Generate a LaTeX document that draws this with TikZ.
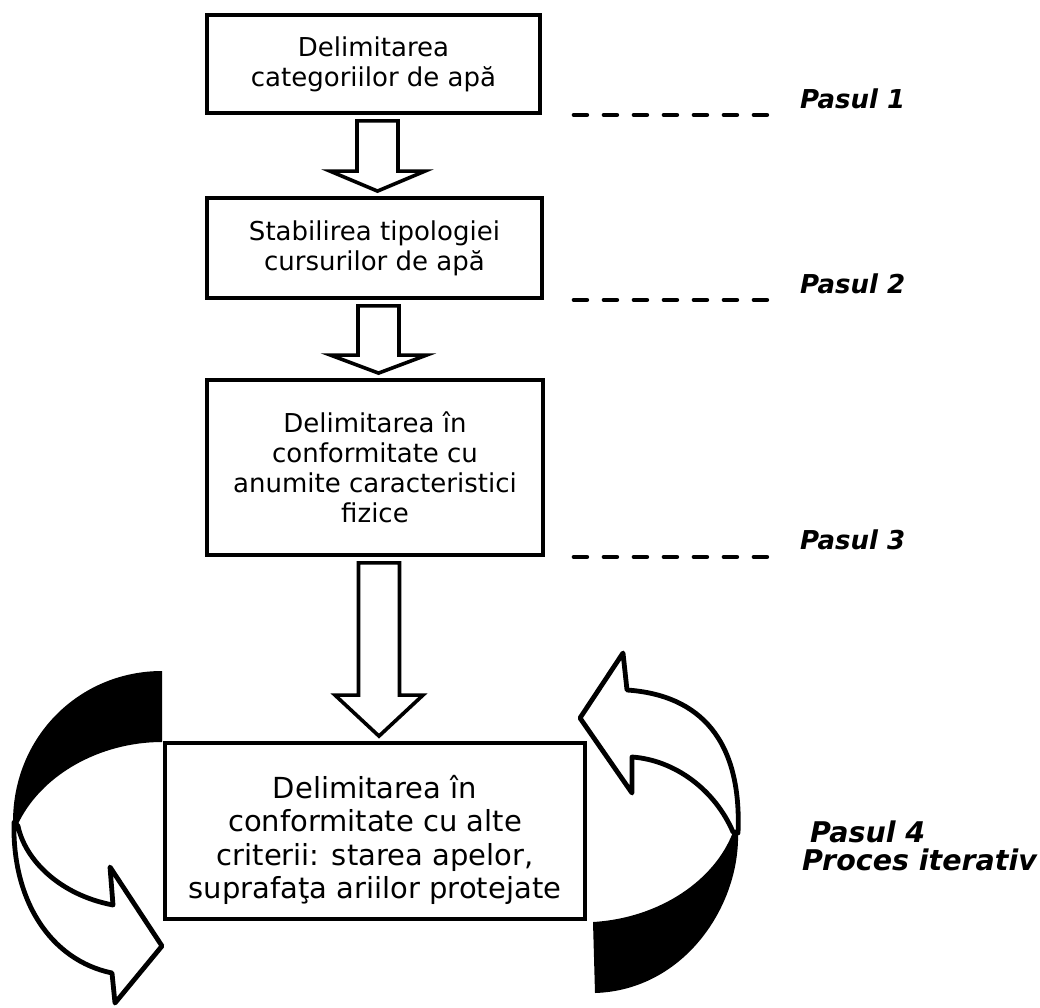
\documentclass[tikz,border=0pt]{standalone}
\usepackage{fontspec}
\setmainfont{DejaVu Sans}
\usetikzlibrary{calc}

% block arrow pointing down from the bottom of #1 to the top of #2
% #3 = head length, #4 = half width of the head
\newcommand{\blockdown}[4]{%
  \draw[blockarrow] let \p1=($(#1.south)+(4,0)$), \p2=($(#2.north)+(4,0)$) in
    (\x1-20.5pt,\y1-6pt) -- (\x1+20.5pt,\y1-6pt) -- (\x1+20.5pt,\y2+5pt+#3pt)
    -- (\x1+#4pt,\y2+5pt+#3pt) -- (\x1,\y2+5pt) -- (\x1-#4pt,\y2+5pt+#3pt)
    -- (\x1-20.5pt,\y2+5pt+#3pt) -- cycle;}

\begin{document}
\begin{tikzpicture}[x=1pt,y=-1pt,
  box/.style={draw, line width=3.8pt, align=center, inner sep=0pt,
    font=\fontsize{26}{30}\selectfont},
  boxtext/.style={align=center, inner sep=0pt,
    font=\fontsize{29}{33.3}\selectfont},
  blockarrow/.style={draw, fill=white, line width=3.6pt, line join=miter},
  leader/.style={line width=4.5pt, line cap=round, dash pattern=on 13pt off 17pt},
  steplabel/.style={anchor=base west, inner sep=0pt,
    font=\fontsize{26}{30}\selectfont\bfseries\itshape},
  ribbon/.style={draw, fill=white, line width=4.8pt, line join=round},
]
\useasboundingbox (0,0) rectangle (1040,1007);
\fill[white] (0,0) rectangle (1040,1007);

% process boxes
\node[box, minimum width=333pt, minimum height=98pt] (b1) at (373.5,64)
  {Delimitarea\\categoriilor de apă};
\node[box, minimum width=335pt, minimum height=100pt] (b2) at (374.5,248)
  {Stabilirea tipologiei\\cursurilor de apă};
\node[box, minimum width=336pt, minimum height=175pt] (b3) at (375,467.5)
  {Delimitarea în\\conformitate cu\\anumite caracteristici\\fizice};
\node[box, minimum width=420pt, minimum height=176pt] (b4) at (375,831) {};
\node[boxtext] (t4) at ($(b4.center)+(0,9)$)
  {Delimitarea în\\conformitate cu alte\\criterii: starea apelor,\\suprafaţa ariilor protejate};

% block arrows between the boxes
\blockdown{b1}{b2}{20}{47.5}
\blockdown{b2}{b3}{18}{48}
\blockdown{b3}{b4}{41}{44}

% step labels with dashed leaders
\node[steplabel] (p1) at ($(b1.south east)+(258,-6)$) {Pasul 1};
\node[steplabel] (p2) at ($(b2.south east)+(256,-6)$) {Pasul 2};
\node[steplabel] (p3) at ($(b3.south east)+(255,-7)$) {Pasul 3};
\draw[leader] ($(b1.south east)+(32,0)$) -- ($(p1.base west)+(-33,6)$);
\draw[leader] ($(b2.south east)+(30,0)$) -- ($(p2.base west)+(-33,6)$);
\draw[leader] ($(b3.south east)+(29,0)$) -- ($(p3.base west)+(-33,7)$);
\node[anchor=base west, inner sep=0pt, align=left,
  font=\fontsize{28.5}{28}\selectfont\bfseries\itshape] (p4) at (802,870)
  {\hspace*{8pt}Pasul 4\\Proces iterativ};

% left curved arrow: dark back band, then the white front with its head
\fill[black] (162,671) .. controls (80,671) and (13,736) .. (13,822)
  -- (17,826) .. controls (40,775) and (100,742) .. (162,742) -- cycle;
\path[ribbon] (14,822) .. controls (12,900) and (50,960) .. (112,973)
  -- (115,1003) -- (162,946) -- (110,867) -- (113,905)
  .. controls (60,895) and (25,860) .. (18,826) -- cycle;

% right curved arrow
\fill[black] (593,922) -- (595,993) .. controls (685,990) and (740,905) .. (738,833)
  -- (733,832) .. controls (715,880) and (660,918) .. (593,922) -- cycle;
\path[ribbon] (738,833) .. controls (742,740) and (700,695) .. (627,690)
  -- (623,653) -- (580,718) -- (632,793) -- (632,757)
  .. controls (675,760) and (715,790) .. (733,832) -- cycle;
\end{tikzpicture}
\end{document}
